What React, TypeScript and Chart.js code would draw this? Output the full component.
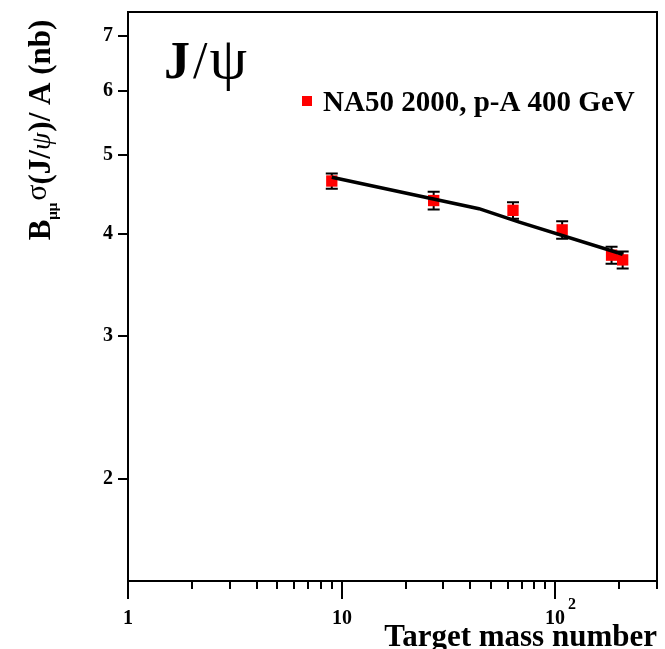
import React, { useEffect, useRef } from "react";
import { Chart, registerables } from "chart.js";

Chart.register(...registerables);

// NA50 p-A data at 400 GeV: target mass number vs B_μμ σ(J/ψ)/A in nb
const massNumbers = [9, 27, 63.5, 107.9, 183.8, 207.2];
const crossSections = [4.65, 4.4, 4.28, 4.05, 3.77, 3.72];
const crossSectionErrors = [0.1, 0.11, 0.1, 0.1, 0.09, 0.09];

// Fitted A-dependence curve
const fitMassNumbers = [9, 44, 68, 207.2];
const fitCrossSections = [4.7, 4.3, 4.14, 3.78];

// Axis ticks
const yTickValues = [2, 3, 4, 5, 6, 7];
const xMajorTicks = [1, 10, 100];
const xMajorLabels = ["1", "10", "10"];
const xMajorExponents = ["", "", "2"];
const xMinorTicks = [2, 3, 4, 5, 6, 7, 8, 9, 20, 30, 40, 50, 60, 70, 80, 90, 200, 300];

const seriesLabel = "NA50 2000, p-A 400 GeV";
const xTitle = "Target mass number";

const SERIF = "'Liberation Serif', 'Times New Roman', serif";
const RED = "#ff0000";

type Run = { text: string; font: string; dy?: number; gap?: number };

function runsWidth(ctx: CanvasRenderingContext2D, runs: Run[]) {
  let w = 0;
  for (const r of runs) {
    ctx.font = r.font;
    w += ctx.measureText(r.text).width + (r.gap || 0);
  }
  return w;
}

function drawRuns(ctx: CanvasRenderingContext2D, runs: Run[], x: number, y: number) {
  let cx = x;
  for (const r of runs) {
    ctx.font = r.font;
    ctx.fillText(r.text, cx, y + (r.dy || 0));
    cx += ctx.measureText(r.text).width + (r.gap || 0);
  }
  return cx;
}

const errorBarPlugin = {
  id: "errorBars",
  beforeDatasetDraw(chart: any, args: any) {
    if (args.index !== 1) return;
    const ctx: CanvasRenderingContext2D = chart.ctx;
    const xs = chart.scales.x;
    const ys = chart.scales.y;
    ctx.save();
    ctx.strokeStyle = "#000";
    ctx.lineWidth = 2;
    massNumbers.forEach((a, i) => {
      const px = xs.getPixelForValue(a);
      const top = ys.getPixelForValue(crossSections[i] + crossSectionErrors[i]);
      const bot = ys.getPixelForValue(crossSections[i] - crossSectionErrors[i]);
      ctx.beginPath();
      ctx.moveTo(px, top);
      ctx.lineTo(px, bot);
      ctx.moveTo(px - 6, top);
      ctx.lineTo(px + 6, top);
      ctx.moveTo(px - 6, bot);
      ctx.lineTo(px + 6, bot);
      ctx.stroke();
    });
    ctx.restore();
  },
};

const framePlugin = {
  id: "frameAndText",
  afterDraw(chart: any) {
    const ctx: CanvasRenderingContext2D = chart.ctx;
    const { left, right, top, bottom } = chart.chartArea;
    const xs = chart.scales.x;
    const ys = chart.scales.y;
    ctx.save();
    ctx.fillStyle = "#000";
    ctx.strokeStyle = "#000";
    ctx.lineWidth = 2;
    ctx.strokeRect(left, top, right - left, bottom - top);

    // y ticks and labels
    ctx.font = `bold 20px ${SERIF}`;
    ctx.textAlign = "right";
    ctx.textBaseline = "middle";
    yTickValues.forEach((v) => {
      const py = Math.round(ys.getPixelForValue(v));
      ctx.beginPath();
      ctx.moveTo(left, py);
      ctx.lineTo(left - 10, py);
      ctx.stroke();
      ctx.fillText(String(v), left - 15, py);
    });

    // x ticks
    xMinorTicks.forEach((v) => {
      const px = Math.round(xs.getPixelForValue(v));
      ctx.beginPath();
      ctx.moveTo(px, bottom);
      ctx.lineTo(px, bottom + 8);
      ctx.stroke();
    });
    ctx.textBaseline = "alphabetic";
    xMajorTicks.forEach((v, i) => {
      const px = Math.round(xs.getPixelForValue(v));
      ctx.beginPath();
      ctx.moveTo(px, bottom);
      ctx.lineTo(px, bottom + 18);
      ctx.stroke();
      ctx.font = `bold 20px ${SERIF}`;
      ctx.textAlign = "center";
      ctx.fillText(xMajorLabels[i], px, 624);
      if (xMajorExponents[i]) {
        const w = ctx.measureText(xMajorLabels[i]).width;
        ctx.font = `bold 16px ${SERIF}`;
        ctx.textAlign = "left";
        ctx.fillText(xMajorExponents[i], px + w / 2 + 3, 609);
      }
    });

    // x title
    ctx.font = `bold 31px ${SERIF}`;
    ctx.textAlign = "right";
    ctx.fillText(xTitle, right, 646);

    // y title, rotated
    ctx.textAlign = "left";
    const yRuns: Run[] = [
      { text: "B", font: `bold 31px ${SERIF}` },
      { text: "μμ", font: `bold 15px ${SERIF}`, dy: 7, gap: 2 },
      { text: "σ", font: `30px ${SERIF}`, dy: -4 },
      { text: "(J/", font: `bold 31px ${SERIF}` },
      { text: "ψ", font: `italic 28px ${SERIF}`, gap: 1 },
      { text: ")/ A (nb)", font: `bold 31px ${SERIF}` },
    ];
    const tw = runsWidth(ctx, yRuns);
    ctx.save();
    ctx.translate(50, 130);
    ctx.rotate(-Math.PI / 2);
    drawRuns(ctx, yRuns, -tw / 2, 0);
    ctx.restore();

    // J/ψ heading
    drawRuns(
      ctx,
      [
        { text: "J", font: `bold 52px ${SERIF}`, gap: 3 },
        { text: "/", font: `52px ${SERIF}`, gap: 2 },
        { text: "ψ", font: `60px ${SERIF}` },
      ],
      164,
      78
    );

    // legend
    ctx.fillStyle = RED;
    ctx.fillRect(302, 96, 10, 10);
    ctx.fillStyle = "#000";
    ctx.font = `bold 29px ${SERIF}`;
    ctx.fillText(seriesLabel, 323, 111);

    ctx.restore();
  },
};

export default function App() {
  const canvasRef = useRef<HTMLCanvasElement | null>(null);

  useEffect(() => {
    const canvas = canvasRef.current;
    if (!canvas) return;
    const chart = new Chart(canvas, {
      type: "scatter",
      data: {
        datasets: [
          {
            label: "fit",
            type: "line",
            data: fitMassNumbers.map((a, i) => ({ x: a, y: fitCrossSections[i] })),
            borderColor: "#000",
            borderWidth: 3.5,
            pointRadius: 0,
            fill: false,
            tension: 0,
            order: 0,
          },
          {
            label: seriesLabel,
            data: massNumbers.map((a, i) => ({ x: a, y: crossSections[i] })),
            backgroundColor: RED,
            borderColor: RED,
            borderWidth: 0,
            pointStyle: "rect",
            pointRadius: 8,
            order: 1,
          },
        ],
      },
      options: {
        responsive: false,
        animation: false,
        layout: { padding: { left: 128, right: 6, top: 12, bottom: 68 } },
        plugins: {
          legend: { display: false },
          tooltip: { enabled: false },
        },
        scales: {
          x: { type: "logarithmic", min: 1, max: 300, display: false },
          y: { type: "logarithmic", min: 1.5, max: 7.5, display: false },
        },
      },
      plugins: [errorBarPlugin, framePlugin],
    });
    return () => chart.destroy();
  }, []);

  return (
    <div style={{ position: "fixed", left: 0, top: 0, width: 665, height: 649, background: "#fff" }}>
      <canvas ref={canvasRef} width={665} height={649} style={{ display: "block" }} />
    </div>
  );
}
